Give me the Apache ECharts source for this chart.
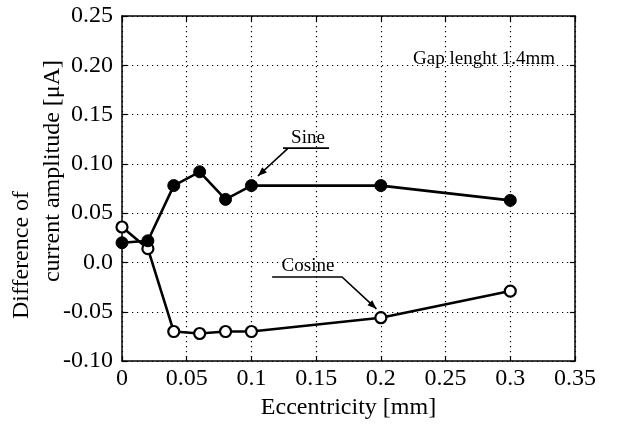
<!DOCTYPE html>
<html><head><meta charset="utf-8">
<script src="https://cdn.jsdelivr.net/npm/echarts@6/dist/echarts.min.js"></script>
<style>html,body{margin:0;padding:0;background:#fff}#c{width:626px;height:425px}</style>
</head><body><div id="c"></div>
<script>
const eccentricity = [0, 0.02, 0.04, 0.06, 0.08, 0.1, 0.2, 0.3];
const sineValues = [0.020, 0.022, 0.078, 0.092, 0.064, 0.078, 0.078, 0.063];
const cosineValues = [0.036, 0.014, -0.070, -0.072, -0.070, -0.070, -0.056, -0.029];
const xTickLabels = ['0','0.05','0.1','0.15','0.2','0.25','0.3','0.35'];
const yTickLabels = ['-0.10','-0.05','0.0','0.05','0.10','0.15','0.20','0.25'];
const xMin = 0, xMax = 0.35, yMin = -0.10, yMax = 0.25, step = 0.05;

const FONT = '"Liberation Serif", "Times New Roman", serif';
const chart = echarts.init(document.getElementById('c'), null, {renderer: 'canvas'});

function pairs(xs, ys) { return xs.map((x, i) => [x, ys[i]]); }
function lab(arr, min) { return v => arr[Math.round((v - min) / step)] ?? ''; }

const gridLine = {show: true, lineStyle: {color: '#000', width: 1.2, type: [1.2, 3.8]}};
const tick = {show: true, inside: true, length: 5, lineStyle: {color: '#000', width: 1.2}};
const line = {show: true, onZero: false, lineStyle: {color: '#000', width: 1.5}};

chart.setOption({
  animation: false,
  backgroundColor: '#fff',
  grid: {left: 122, right: 51, top: 16, bottom: 59, containLabel: false},
  xAxis: [{
    type: 'value', min: xMin, max: xMax, interval: step,
    axisLine: line, axisTick: tick, splitLine: gridLine,
    axisLabel: {formatter: lab(xTickLabels, xMin), color: '#000', fontFamily: FONT, fontSize: 24, margin: 6},
    name: 'Eccentricity [mm]', nameLocation: 'middle', nameGap: 31,
    nameTextStyle: {color: '#000', fontFamily: FONT, fontSize: 24}
  }, {
    type: 'value', position: 'top', min: xMin, max: xMax, interval: step,
    axisLine: line, axisTick: tick, splitLine: {show: false}, axisLabel: {show: false}
  }],
  yAxis: [{
    type: 'value', min: yMin, max: yMax, interval: step,
    axisLine: line, axisTick: tick, splitLine: gridLine,
    axisLabel: {formatter: lab(yTickLabels, yMin), color: '#000', fontFamily: FONT, fontSize: 24, margin: 9}
  }, {
    type: 'value', position: 'right', min: yMin, max: yMax, interval: step,
    axisLine: line, axisTick: tick, splitLine: {show: false}, axisLabel: {show: false}
  }],
  series: [{
    name: 'Cosine', type: 'line', data: pairs(eccentricity, cosineValues),
    symbol: 'circle', symbolSize: 11,
    lineStyle: {color: '#000', width: 2.6},
    itemStyle: {color: '#fff', borderColor: '#000', borderWidth: 2.2}, z: 3
  }, {
    name: 'Sine', type: 'line', data: pairs(eccentricity, sineValues),
    symbol: 'circle', symbolSize: 12,
    lineStyle: {color: '#000', width: 2.6},
    itemStyle: {color: '#000', borderColor: '#000', borderWidth: 1}, z: 4
  }]
});

// annotation anchors (data space)
const notes = [
  {text: 'Sine', at: [0.1437, 0.126]},
  {text: 'Cosine', at: [0.1437, -0.004]},
  {text: 'Gap lenght 1.4mm', at: [0.2797, 0.206]}
];
const leaders = [
  {pts: [[0.1244, 0.116], [0.160, 0.116]], arrow: false},
  {pts: [[0.128, 0.1155], [0.105, 0.0877]], arrow: true},
  {pts: [[0.116, -0.0147], [0.170, -0.0147], [0.1966, -0.047]], arrow: true}
];
const px = p => chart.convertToPixel({xAxisIndex: 0, yAxisIndex: 0}, p);
const g = [];
notes.forEach(n => {
  const p = px(n.at);
  g.push({type: 'text', x: p[0], y: p[1], z: 10,
    style: {text: n.text, fill: '#000', font: '19px ' + FONT, align: 'center', verticalAlign: 'middle'}});
});
leaders.forEach(l => {
  const pts = l.pts.map(px);
  g.push({type: 'polyline', z: 10, shape: {points: pts}, style: {stroke: '#000', lineWidth: 1.6, fill: null}});
  if (l.arrow) {
    const a = pts[pts.length - 2], b = pts[pts.length - 1];
    const ang = Math.atan2(b[1] - a[1], b[0] - a[0]);
    const L = 9, W = 3.5;
    const bx = b[0] - L * Math.cos(ang), by = b[1] - L * Math.sin(ang);
    const nx = -Math.sin(ang) * W, ny = Math.cos(ang) * W;
    g.push({type: 'polygon', z: 10, shape: {points: [b, [bx + nx, by + ny], [bx - nx, by - ny]]}, style: {fill: '#000'}});
  }
});
// y-axis title, two rotated lines
g.push({type: 'text', x: 22, y: 255, rotation: Math.PI / 2, z: 10,
  style: {text: 'Difference of', fill: '#000', font: '24px ' + FONT, align: 'center', verticalAlign: 'middle'}});
g.push({type: 'text', x: 53, y: 171, rotation: Math.PI / 2, z: 10,
  style: {text: 'current amplitude [\u03BCA]', fill: '#000', font: '24px ' + FONT, align: 'center', verticalAlign: 'middle'}});
chart.setOption({graphic: g});
</script>
</body></html>
